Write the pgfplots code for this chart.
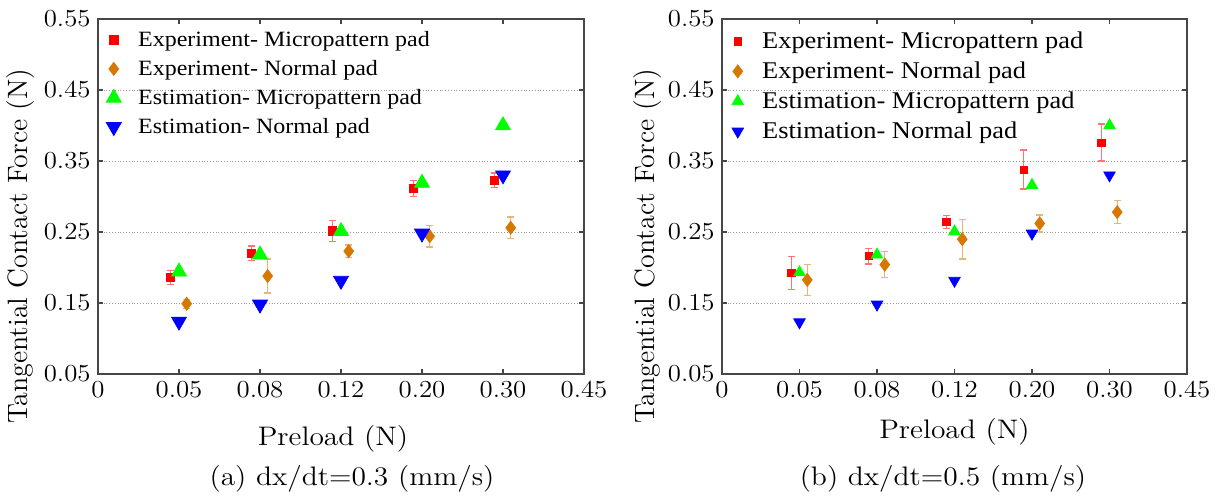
\documentclass[border=0pt]{standalone}
\usepackage{fontspec}
\usepackage{pgfplots}
\pgfplotsset{compat=1.18}
\setmainfont{Latin Modern Roman}[FakeStretch=1.1]
\newfontfamily\plainlm{Latin Modern Roman}
\newfontfamily\legfont{Liberation Serif}[FakeStretch=1.1]

\definecolor{mpred}{RGB}{255,0,0}
\definecolor{mporange}{RGB}{214,120,0}
\definecolor{mpgreen}{RGB}{0,255,0}
\definecolor{mpblue}{RGB}{0,0,255}
\definecolor{axgray}{RGB}{70,70,70}

% experiment: x position (category index with offset), mean, error
\pgfplotstableread{
x      y       e
0.895  0.186   0.0094
1.895  0.220   0.0103
2.895  0.2515  0.0146
3.895  0.311   0.0115
4.895  0.323   0.010
}\expMicroA
\pgfplotstableread{
x      y       e
1.095  0.149   0.0063
2.095  0.188   0.024
3.095  0.223   0.0087
4.095  0.244   0.015
5.095  0.256   0.015
}\expNormalA
\pgfplotstableread{
x      y       e
0.895  0.192   0.023
1.895  0.216   0.011
2.895  0.264   0.0096
3.895  0.338   0.0275
4.895  0.376   0.026
}\expMicroB
\pgfplotstableread{
x      y       e
1.1    0.1825  0.022
2.1    0.204   0.018
3.1    0.240   0.028
4.1    0.262   0.012
5.1    0.278   0.016
}\expNormalB

\pgfplotsset{
  panel/.style={
    scale only axis, height=177.5pt,
    xmin=0, xmax=6, ymin=0.05, ymax=0.55,
    xtick={0,1,2,3,4,5,6},
    xticklabels={0,0.05,0.08,0.12,0.20,0.30,0.45},
    ytick={0.05,0.15,0.25,0.35,0.45,0.55},
    yticklabels={0.05,0.15,0.25,0.35,0.45,0.55},
    ymajorgrids, grid style={densely dotted, gray!80, line width=0.5pt},
    tick align=inside, major tick length=2.5pt,
    axis line style={axgray, line width=0.8pt},
    tick style={axgray, line width=0.6pt},
    tick label style={font=\fontsize{12.2}{14}\selectfont},
    yticklabel style={inner xsep=3.5pt},
    xlabel style={font=\fontsize{13.4}{16}\selectfont,
      at={(axis description cs:0.5,0)}, anchor=base, yshift=-35.5pt},
    ylabel style={font=\plainlm\fontsize{14}{16}\selectfont},
    legend cell align=left,
    legend style={draw=none, fill=none, inner xsep=0pt, inner ysep=0pt,
      at={(axis description cs:0,1)}, anchor=north west, yshift=-3pt,
      font=\legfont\fontsize{10.9}{13}\selectfont,
      nodes={inner sep=2pt, text height=8.5pt, text depth=2pt}},
    legend image code/.code={\path (-7.5pt,0pt) (10pt,0pt);
      \draw[##1] plot coordinates {(0pt,0pt)};},
  },
  ebar/.style={error bars/.cd, y dir=both, y explicit,
    error bar style={#1!55, line width=0.6pt},
    error mark options={rotate=90, #1!55, mark size=1.75pt, line width=0.6pt}},
}

\begin{document}
\begin{tikzpicture}
\useasboundingbox (-49pt,-62pt) rectangle (566.5pt,187pt);

\begin{axis}[panel, at={(0pt,0pt)}, anchor=south west, width=243pt,
  xlabel={Preload (N)}, ylabel={Tangential Contact Force (N)},
  xlabel style={xshift=-4pt},
  ylabel style={at={(axis description cs:-0.160,0.36)}, anchor=center}]
\addplot[only marks, mark=square*, color=mpred, mark size=2.1pt, ebar=mpred]
  table[x=x, y=y, y error=e] {\expMicroA};
\addlegendentry{Experiment- Micropattern pad}
\addplot[only marks, mark=diamond*, color=mporange, mark size=3.25pt, ebar=mporange]
  table[x=x, y=y, y error=e] {\expNormalA};
\addlegendentry{Experiment- Normal pad}
\addplot[only marks, mark=triangle*, color=mpgreen, mark size=4.3pt]
  coordinates {(1,0.194) (2,0.218) (3,0.251) (4,0.319) (5,0.400)};
\addlegendentry{Estimation- Micropattern pad}
\addplot[only marks, mark=triangle*, color=mpblue, mark size=4.3pt, mark options={rotate=180}]
  coordinates {(1,0.124) (2,0.148) (3,0.1815) (4,0.248) (5,0.330)};
\addlegendentry{Estimation- Normal pad}
\end{axis}
\node[anchor=base, font=\fontsize{13.4}{16}\selectfont] at (127pt,-55.5pt)
  {(a) dx/dt=0.3 (mm/s)};

\begin{axis}[panel, at={(312pt,0pt)}, anchor=south west, width=232.5pt,
  xlabel={Preload (N)}, ylabel={Tangential Contact Force (N)},
  xlabel style={yshift=3.5pt},
  legend style={yshift=-0.5pt, font=\legfont\fontsize{12}{14}\selectfont,
    nodes={text height=9pt}},
  ylabel style={at={(axis description cs:-0.161,0.36)}, anchor=center}]
\addplot[only marks, mark=square*, color=mpred, mark size=1.8pt, ebar=mpred]
  table[x=x, y=y, y error=e] {\expMicroB};
\addlegendentry{Experiment- Micropattern pad}
\addplot[only marks, mark=diamond*, color=mporange, mark size=3.25pt, ebar=mporange]
  table[x=x, y=y, y error=e] {\expNormalB};
\addlegendentry{Experiment- Normal pad}
\addplot[only marks, mark=triangle*, color=mpgreen, mark size=3.3pt]
  coordinates {(1,0.193) (2,0.218) (3,0.2505) (4,0.316) (5,0.400)};
\addlegendentry{Estimation- Micropattern pad}
\addplot[only marks, mark=triangle*, color=mpblue, mark size=3.3pt, mark options={rotate=180}]
  coordinates {(1,0.123) (2,0.148) (3,0.1815) (4,0.248) (5,0.330)};
\addlegendentry{Estimation- Normal pad}
\end{axis}
\node[anchor=base, font=\fontsize{13.4}{16}\selectfont] at (422.5pt,-55.5pt)
  {(b) dx/dt=0.5 (mm/s)};
\end{tikzpicture}
\end{document}
